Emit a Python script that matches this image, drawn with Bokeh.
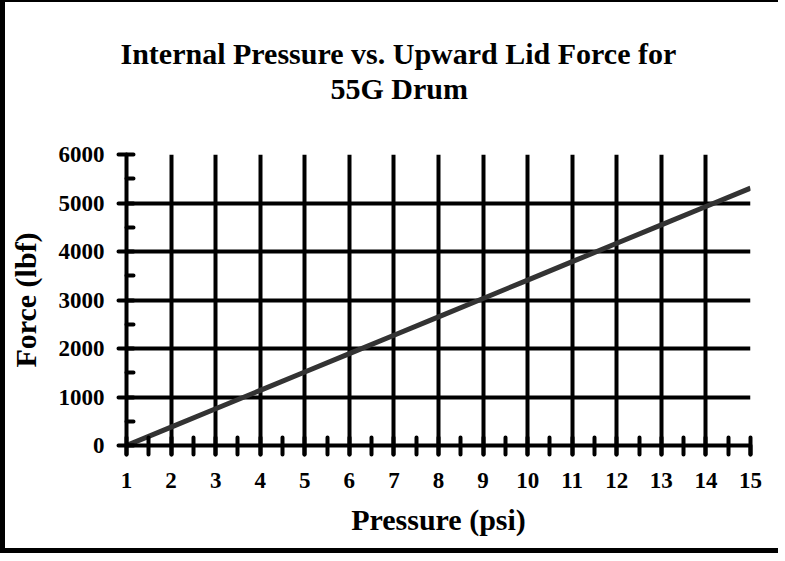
from bokeh.plotting import figure
from bokeh.embed import file_html
from bokeh.resources import INLINE
from bokeh.models import SingleIntervalTicker, Range1d, Title

pressure = [1, 2, 3, 4, 5, 6, 7, 8, 9, 10, 11, 12, 13, 14, 15]
force = [0, 379, 758, 1137, 1516, 1895, 2274, 2653, 3032, 3411, 3790, 4169, 4548, 4927, 5306]
baseline = [0, 0, 0, 0, 0, 0, 0, 0, 0, 0, 0, 0, 0, 0, 0]

FONT = "Liberation Serif"

p = figure(width=772, height=546, output_backend="svg", toolbar_location=None,
           x_range=Range1d(1, 15), y_range=Range1d(0, 6000),
           frame_width=624, frame_height=291,
           min_border_left=120, min_border_right=28, min_border_top=152, min_border_bottom=103)
p.styles = {"margin": "-3px -8px -8px 0px",
            "border-left": "5px solid black", "border-top": "5px solid black",
            "border-bottom": "5px solid black"}

# innermost: blank spacer between the plot frame and the title lines
p.add_layout(Title(text=" ", text_font=FONT, text_font_size="10px", standoff=37), "above")
p.add_layout(Title(text="55G Drum", text_font=FONT, text_font_size="30px",
                   text_font_style="bold", text_color="black", align="left",
                   offset=204, standoff=0), "above")
p.title = Title(text="Internal Pressure vs. Upward Lid Force for", text_font=FONT,
                text_font_size="30px", text_font_style="bold", text_color="black",
                align="left", offset=-6, standoff=0)

p.line(pressure, force, line_color="#333333", line_width=5)
p.line(pressure, baseline, line_color="#000080", line_width=3)

p.xaxis.ticker = SingleIntervalTicker(interval=1, num_minor_ticks=2)
p.yaxis.ticker = SingleIntervalTicker(interval=1000, num_minor_ticks=2)

for ax in (p.xaxis[0], p.yaxis[0]):
    ax.axis_line_width = 4
    ax.axis_line_color = "black"
    ax.major_tick_line_width = 4
    ax.minor_tick_line_width = 4
    ax.major_tick_line_cap = "round"
    ax.minor_tick_line_cap = "round"
    ax.major_tick_line_color = "black"
    ax.minor_tick_line_color = "black"
    ax.major_label_text_font = FONT
    ax.major_label_text_font_style = "bold"
    ax.major_label_text_font_size = "23px"
    ax.major_label_text_color = "black"
    ax.axis_label_text_font = FONT
    ax.axis_label_text_font_style = "bold"
    ax.axis_label_text_font_size = "30px"
    ax.axis_label_text_color = "black"

p.xaxis.major_tick_out = 9
p.xaxis.major_tick_in = 0
p.xaxis.minor_tick_in = 8
p.xaxis.minor_tick_out = 9
p.xaxis.major_label_standoff = 18
p.xaxis.axis_label = "Pressure (psi)"
p.xaxis.axis_label_standoff = 12

p.yaxis.major_tick_out = 8
p.yaxis.major_tick_in = 0
p.yaxis.minor_tick_in = 7
p.yaxis.minor_tick_out = 0
p.yaxis.major_label_standoff = 14
p.yaxis.axis_label = "Force (lbf)"
p.yaxis.axis_label_standoff = 14

p.xgrid.grid_line_color = "black"
p.ygrid.grid_line_color = "black"
p.xgrid.grid_line_width = 4
p.ygrid.grid_line_width = 4
p.outline_line_color = None

open("out.html", "w").write(file_html(p, INLINE))
